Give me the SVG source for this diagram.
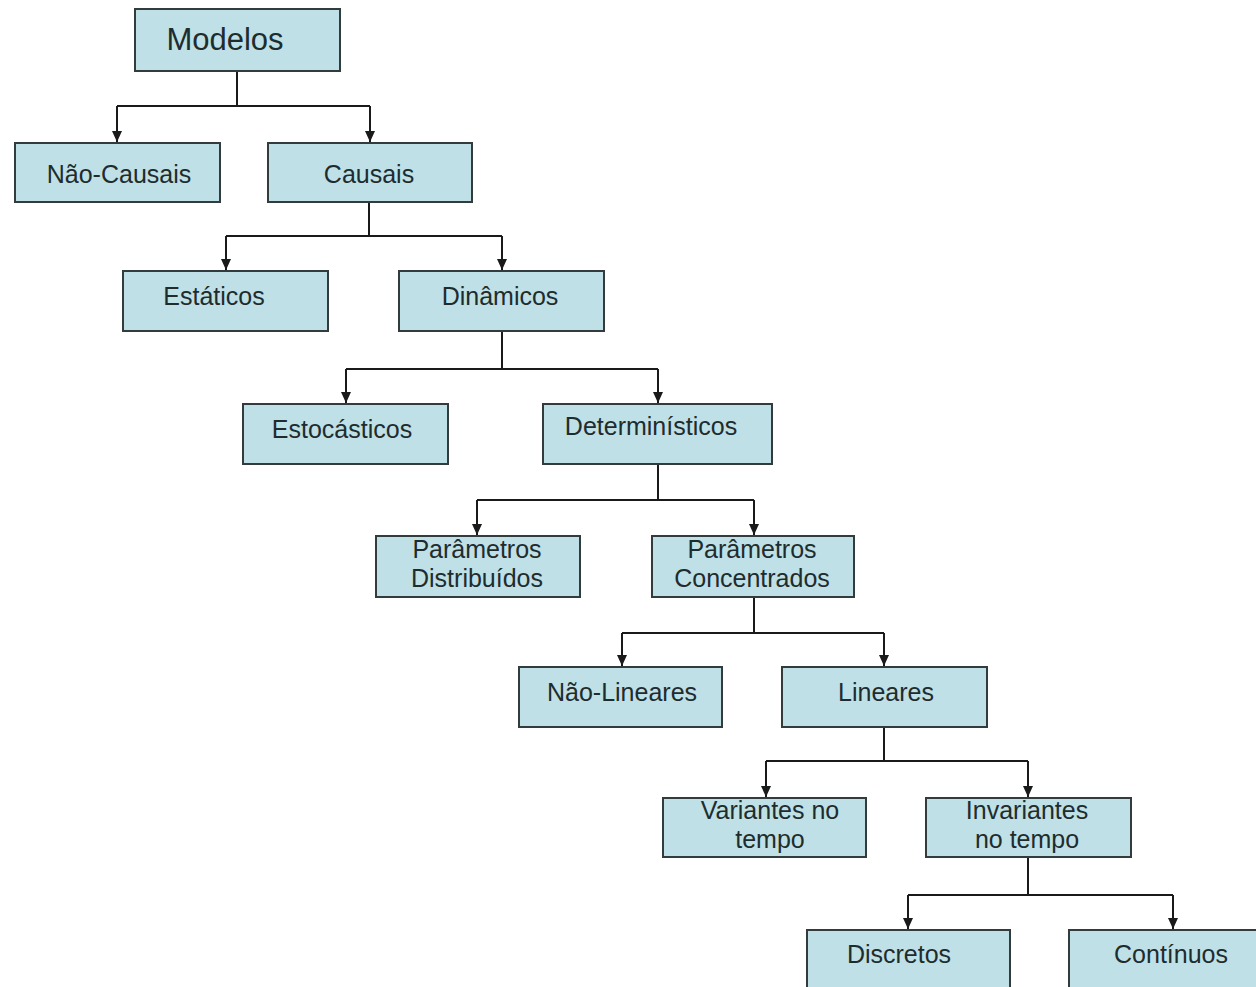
<svg xmlns="http://www.w3.org/2000/svg" width="1256" height="987" viewBox="0 0 1256 987">
<defs>
<marker id="arr" markerUnits="userSpaceOnUse" markerWidth="11" markerHeight="10" refX="11" refY="5" orient="auto" viewBox="0 0 11 10">
<path d="M0,0 L11,5 L0,10 Z" fill="#1a1a1a"/>
</marker>
</defs>
<style>
.box{fill:#bfe0e6;stroke:#333c3c;stroke-width:2}
.t{font-family:"Liberation Sans",Arial,sans-serif;font-size:25px;fill:#1e2c2e;text-anchor:middle}
.c{fill:none;stroke:#1a1a1a;stroke-width:2}
</style>
<rect width="1256" height="987" fill="#ffffff"/>
<g id="connectors">
<path class="c" d="M237,71 V106 M117,106 H370"/>
<path class="c" d="M117,106 V142" marker-end="url(#arr)"/>
<path class="c" d="M370,106 V142" marker-end="url(#arr)"/>
<path class="c" d="M369,202 V236 M226,236 H502"/>
<path class="c" d="M226,236 V270" marker-end="url(#arr)"/>
<path class="c" d="M502,236 V270" marker-end="url(#arr)"/>
<path class="c" d="M502,331 V369 M346,369 H658"/>
<path class="c" d="M346,369 V403" marker-end="url(#arr)"/>
<path class="c" d="M658,369 V403" marker-end="url(#arr)"/>
<path class="c" d="M658,464 V500 M477,500 H754"/>
<path class="c" d="M477,500 V535" marker-end="url(#arr)"/>
<path class="c" d="M754,500 V535" marker-end="url(#arr)"/>
<path class="c" d="M754,597 V633 M622,633 H884"/>
<path class="c" d="M622,633 V666" marker-end="url(#arr)"/>
<path class="c" d="M884,633 V666" marker-end="url(#arr)"/>
<path class="c" d="M884,727 V761 M766,761 H1028"/>
<path class="c" d="M766,761 V797" marker-end="url(#arr)"/>
<path class="c" d="M1028,761 V797" marker-end="url(#arr)"/>
<path class="c" d="M1028,857 V895 M908,895 H1173"/>
<path class="c" d="M908,895 V929" marker-end="url(#arr)"/>
<path class="c" d="M1173,895 V929" marker-end="url(#arr)"/>
</g>
<g id="modelos"><rect class="box" x="135" y="9" width="205" height="62"/><text class="t" x="225" y="50" style="font-size:31px">Modelos</text></g>
<g id="nao-causais"><rect class="box" x="15" y="143" width="205" height="59"/><text class="t" x="119" y="183">Não-Causais</text></g>
<g id="causais"><rect class="box" x="268" y="143" width="204" height="59"/><text class="t" x="369" y="183">Causais</text></g>
<g id="estaticos"><rect class="box" x="123" y="271" width="205" height="60"/><text class="t" x="214" y="305">Estáticos</text></g>
<g id="dinamicos"><rect class="box" x="399" y="271" width="205" height="60"/><text class="t" x="500" y="305">Dinâmicos</text></g>
<g id="estocasticos"><rect class="box" x="243" y="404" width="205" height="60"/><text class="t" x="342" y="438">Estocásticos</text></g>
<g id="deterministicos"><rect class="box" x="543" y="404" width="229" height="60"/><text class="t" x="651" y="435">Determinísticos</text></g>
<g id="param-distribuidos"><rect class="box" x="376" y="536" width="204" height="61"/><text class="t" x="477" y="558">Parâmetros</text><text class="t" x="477" y="587">Distribuídos</text></g>
<g id="param-concentrados"><rect class="box" x="652" y="536" width="202" height="61"/><text class="t" x="752" y="558">Parâmetros</text><text class="t" x="752" y="587">Concentrados</text></g>
<g id="nao-lineares"><rect class="box" x="519" y="667" width="203" height="60"/><text class="t" x="622" y="701">Não-Lineares</text></g>
<g id="lineares"><rect class="box" x="782" y="667" width="205" height="60"/><text class="t" x="886" y="701">Lineares</text></g>
<g id="variantes"><rect class="box" x="663" y="798" width="203" height="59"/><text class="t" x="770" y="819">Variantes no</text><text class="t" x="770" y="848">tempo</text></g>
<g id="invariantes"><rect class="box" x="926" y="798" width="205" height="59"/><text class="t" x="1027" y="819">Invariantes</text><text class="t" x="1027" y="848">no tempo</text></g>
<g id="discretos"><rect class="box" x="807" y="930" width="203" height="70"/><text class="t" x="899" y="963">Discretos</text></g>
<g id="continuos"><rect class="box" x="1069" y="930" width="200" height="70"/><text class="t" x="1171" y="963">Contínuos</text></g>
</svg>
